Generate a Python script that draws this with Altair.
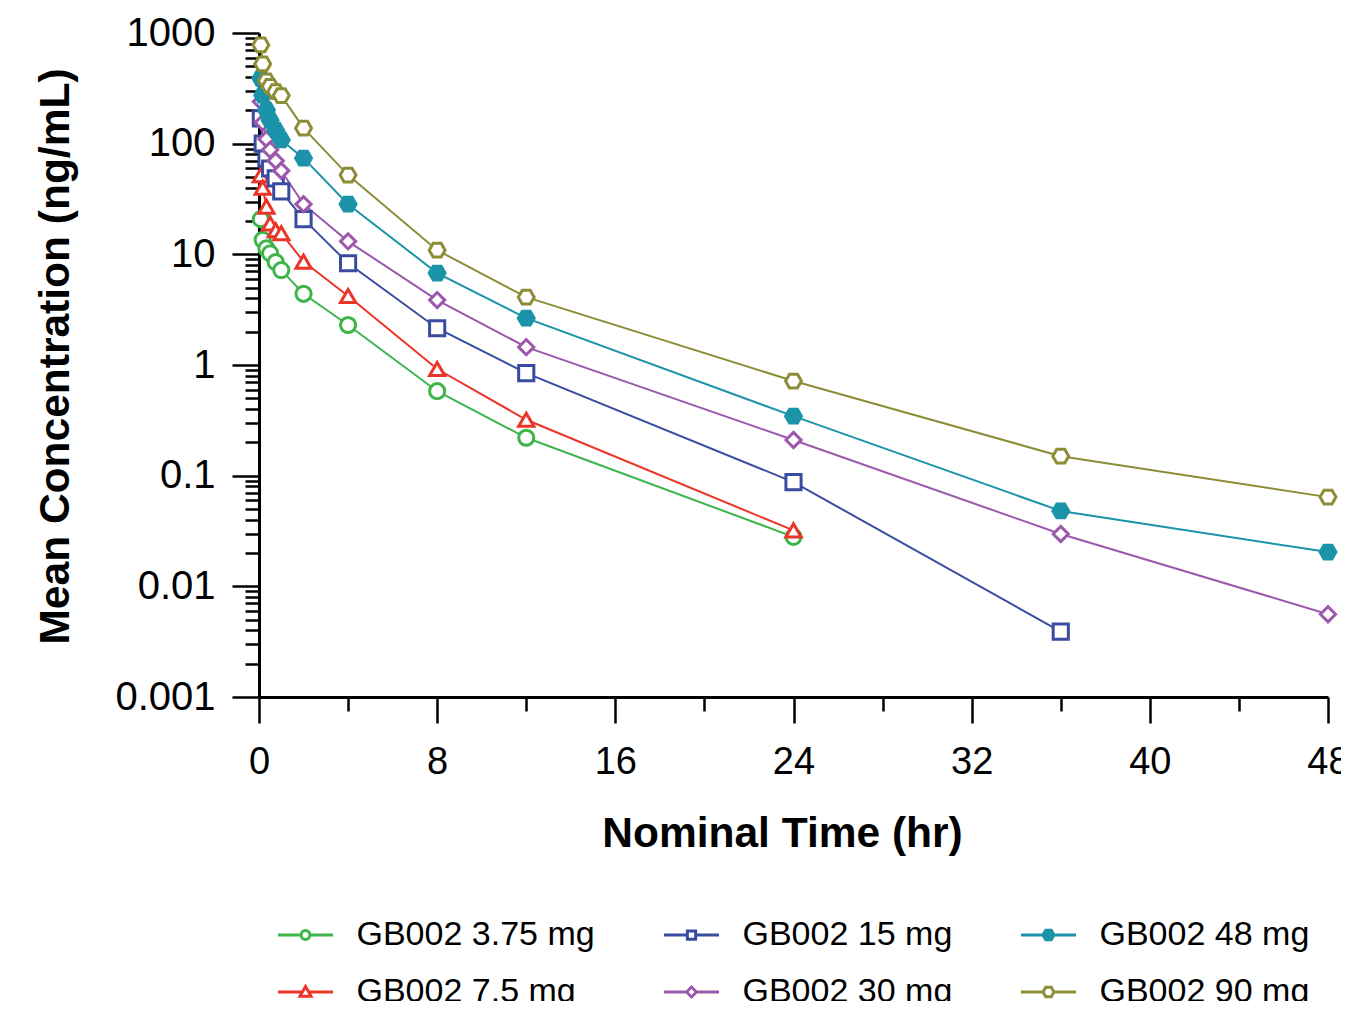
import altair as alt
import pandas as pd

# ---------------- data ----------------
times = [0.083, 0.167, 0.333, 0.5, 0.75, 1, 2, 4, 8, 12, 24, 36, 48]

series_names = ["GB002 3.75 mg", "GB002 7.5 mg", "GB002 15 mg",
                "GB002 30 mg", "GB002 48 mg", "GB002 90 mg"]

conc_375 = [20.8, 13.5, 11.3, 10.2, 8.5, 7.2, 4.4, 2.3, 0.58, 0.22, 0.028]
conc_75 = [52, 40, 27, 19, 16.5, 15.5, 8.6, 4.2, 0.92, 0.32, 0.032]
conc_15 = [169, 100, 73.5, 59.7, 48.5, 37, 20.8, 8.3, 2.15, 0.845, 0.0875, 0.0039]
conc_30 = [240, 155, 110, 88, 70, 57, 28.4, 13.1, 3.86, 1.45, 0.21, 0.0297, 0.0056]
conc_48 = [390, 274, 201, 163, 132, 108, 74, 28.4, 6.77, 2.65, 0.345, 0.048, 0.0204]
conc_90 = [780, 525, 370, 330, 295, 272, 138, 52, 10.9, 4.1, 0.716, 0.150, 0.064]

all_conc = [conc_375, conc_75, conc_15, conc_30, conc_48, conc_90]

x_major = [0, 8, 16, 24, 32, 40, 48]
x_minor = [4, 12, 20, 28, 36, 44]
y_major = [0.001, 0.01, 0.1, 1, 10, 100, 1000]
y_minor = [k * 10.0 ** d for d in range(-3, 3) for k in range(2, 10)]

# ---------------- styling ----------------
colors = {
    "GB002 3.75 mg": "#3db54a",
    "GB002 7.5 mg": "#ec3528",
    "GB002 15 mg": "#3a4ca0",
    "GB002 30 mg": "#9b58ac",
    "GB002 48 mg": "#1b93a9",
    "GB002 90 mg": "#8d8d38",
}
hexagon = "M-1.05,0L-0.525,-0.91L0.525,-0.91L1.05,0L0.525,0.91L-0.525,0.91Z"
shapes = {
    "GB002 3.75 mg": "circle",
    "GB002 7.5 mg": "triangle-up",
    "GB002 15 mg": "square",
    "GB002 30 mg": "diamond",
    "GB002 48 mg": hexagon,
    "GB002 90 mg": hexagon,
}
fills = {n: "white" for n in series_names}
fills["GB002 48 mg"] = colors["GB002 48 mg"]

# legend symbols: line with marker in the middle (unit = half symbol width)
leg_hex = ("M-1,0H-0.2 M0.2,0H1 M-0.2,0L-0.1,-0.173L0.1,-0.173L0.2,0"
           "L0.1,0.173L-0.1,0.173Z")
legend_paths = {
    "GB002 3.75 mg": "M-1,0H-0.16 M0.16,0H1 M-0.16,0A0.16,0.16 0 1,0 0.16,0A0.16,0.16 0 1,0 -0.16,0Z",
    "GB002 7.5 mg": "M-1,0H-0.11 M0.11,0H1 M0,-0.2L0.2,0.15L-0.2,0.15Z",
    "GB002 15 mg": "M-1,0H-0.15 M0.15,0H1 M-0.15,-0.15H0.15V0.15H-0.15Z",
    "GB002 30 mg": "M-1,0H-0.18 M0.18,0H1 M-0.18,0L0,-0.18L0.18,0L0,0.18Z",
    "GB002 48 mg": leg_hex,
    "GB002 90 mg": leg_hex,
}

legend_order = series_names  # laid out column by column (2 rows x 3 columns)

rows = []
for name, conc in zip(series_names, all_conc):
    for t, c in zip(times, conc):
        rows.append({"series": name, "time": t, "conc": c})
df = pd.DataFrame(rows)

FONT = "Liberation Sans"

x_scale = alt.Scale(domain=[0, 48], nice=False, zero=False)
y_scale = alt.Scale(type="log", domain=[0.001, 1000], nice=False)

color_range = [colors[n] for n in legend_order]
fill_range = [fills[n] for n in legend_order]


def make_legend():
    return alt.Legend(title=None, orient="none", legendX=17.5, legendY=873,
                      columns=3, padding=0, symbolSize=3025,
                      symbolStrokeWidth=3, symbolOpacity=1,
                      labelFont=FONT, labelFontSize=34, labelColor="black",
                      labelOffset=22, columnPadding=62, rowPadding=11,
                      labelLimit=400)


base = alt.Chart(df)

lines = base.mark_line(strokeWidth=2).encode(
    x=alt.X("time:Q", scale=x_scale,
            axis=alt.Axis(values=x_major, tickSize=26, labelPadding=20,
                          labelFontSize=38,
                          title="Nominal Time (hr)", titlePadding=31,
                          titleX=523,
                          orient="bottom", labelFlush=False, labelOverlap=False,
                          format="d")),
    y=alt.Y("conc:Q", scale=y_scale,
            axis=alt.Axis(values=y_major, tickSize=27, labelPadding=17,
                          labelFontSize=40,
                          format="~g", title="Mean Concentration (ng/mL)",
                          titlePadding=37, titleY=323, orient="left",
                          labelFlush=False, labelOverlap=False)),
    color=alt.Color("series:N",
                    scale=alt.Scale(domain=legend_order, range=color_range),
                    legend=None),
    order=alt.Order("time:Q"),
)

points = base.mark_point(filled=False, strokeWidth=3, opacity=1, size=230).encode(
    x=alt.X("time:Q", scale=x_scale,
            axis=alt.Axis(values=x_minor, tickSize=14, labels=False,
                          domain=False, title=None, orient="bottom")),
    y=alt.Y("conc:Q", scale=y_scale,
            axis=alt.Axis(values=y_minor, tickSize=14, labels=False,
                          domain=False, title=None, orient="left")),
    stroke=alt.Stroke("series:N",
                      scale=alt.Scale(domain=legend_order, range=color_range),
                      legend=None),
    fill=alt.Fill("series:N",
                  scale=alt.Scale(domain=legend_order, range=fill_range),
                  legend=None),
    shape=alt.Shape("series:N",
                    scale=alt.Scale(domain=legend_order,
                                    range=[shapes[n] for n in legend_order]),
                    legend=None),
)

# legend-only layer (no visible marks): line + marker symbols
legend_layer = base.mark_point(filled=False, strokeWidth=3, opacity=1).encode(
    x=alt.X("time:Q", scale=x_scale, axis=None),
    y=alt.Y("conc:Q", scale=y_scale, axis=None),
    color=alt.Color("series:N",
                    scale=alt.Scale(domain=legend_order, range=color_range),
                    legend=make_legend()),
    fill=alt.Fill("series:N",
                  scale=alt.Scale(domain=legend_order, range=fill_range),
                  legend=make_legend()),
    shape=alt.Shape("series:N",
                    scale=alt.Scale(domain=legend_order,
                                    range=[legend_paths[n] for n in legend_order]),
                    legend=make_legend()),
).transform_filter("datum.conc < 0")

chart = (
    alt.layer(lines, points, legend_layer)
    .resolve_axis(x="independent", y="independent")
    .resolve_scale(color="independent", fill="independent", shape="independent")
    .properties(
        width=1069, height=664,
        padding={"left": 251, "top": 25, "right": 13, "bottom": 304},
        autosize=alt.AutoSizeParams(type="none"),
    )
    .configure_view(stroke=None)
    .configure_axis(
        grid=False, domainColor="black", domainWidth=3, tickColor="black",
        tickWidth=2.5, labelFont=FONT, labelColor="black",
        titleFont=FONT, titleFontSize=42.5, titleFontWeight="bold",
        titleColor="black",
    )
)

chart.save("out.html", embed_options={"renderer": "svg", "actions": False})
